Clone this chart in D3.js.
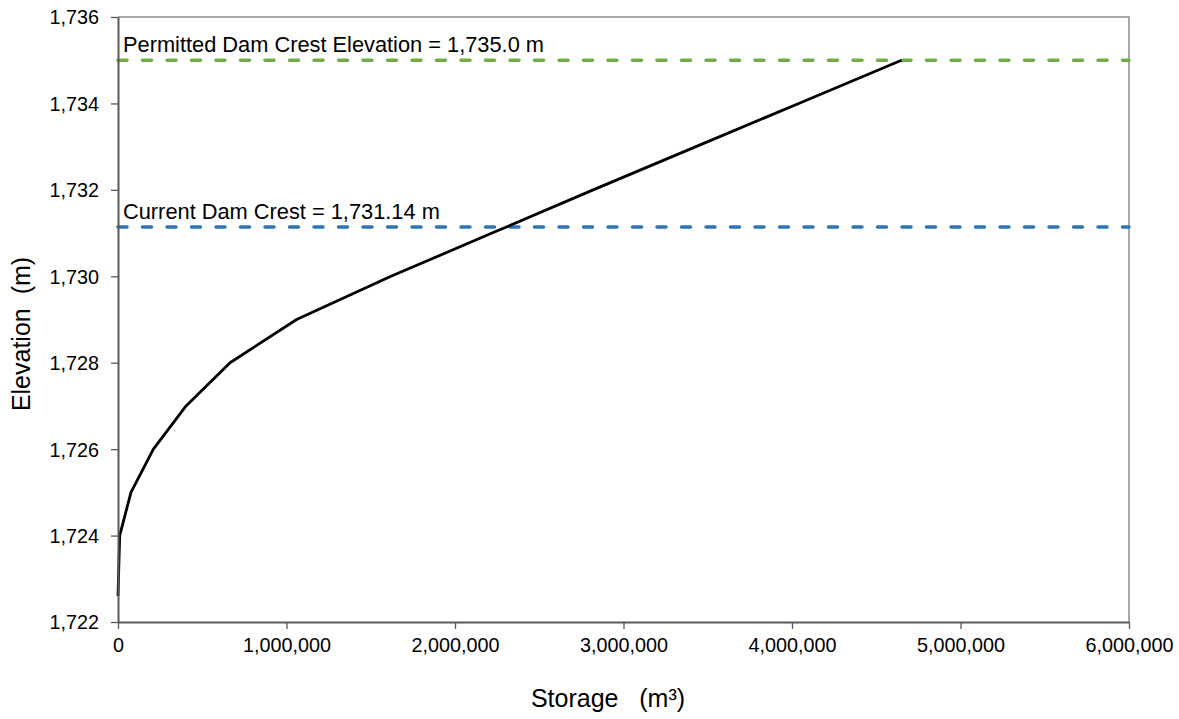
<!DOCTYPE html>
<html>
<head>
<meta charset="utf-8">
<script src="https://cdn.jsdelivr.net/npm/d3@7"></script>
<style>
  html, body { margin: 0; padding: 0; background: #fff; }
  svg { display: block; font-family: "Liberation Sans", Arial, sans-serif; }
</style>
</head>
<body>
<svg id="chart" width="1179" height="719"></svg>
<script>
// Stage-storage curve of the reservoir
const storage   = [0, 10000, 77000, 210000, 404000, 665000, 1060000, 1620000, 2220000, 2820000, 3430000, 4040000, 4650000];
const elevation = [1722.6, 1724, 1725, 1726, 1727, 1728, 1729, 1730, 1731, 1732, 1733, 1734, 1735];

const xTicks = [0, 1000000, 2000000, 3000000, 4000000, 5000000, 6000000];
const yTicks = [1722, 1724, 1726, 1728, 1730, 1732, 1734, 1736];

// Reference crest levels
const crestLevels = [1735.0, 1731.14];
const crestLabels = ["Permitted Dam Crest Elevation = 1,735.0 m", "Current Dam Crest = 1,731.14 m"];
const crestColors = ["#70ad47", "#2e75b6"];

const svg = d3.select("#chart");
const m = { left: 118, top: 17, right: 1129, bottom: 622 };

const x = d3.scaleLinear().domain([0, 6000000]).range([m.left, m.right]);
const y = d3.scaleLinear().domain([1722, 1736]).range([m.bottom, m.top]);
const fmt = d3.format(",");

// plot frame (top and right)
svg.append("path")
  .attr("d", `M${m.left},${m.top}H${m.right}V${m.bottom}`)
  .attr("fill", "none").attr("stroke", "#8c8c8c").attr("stroke-width", 1.5);

// crest lines
crestLevels.forEach((lv, i) => {
  svg.append("line")
    .attr("x1", x(0)).attr("x2", x(6000000))
    .attr("y1", y(lv)).attr("y2", y(lv))
    .attr("stroke", crestColors[i]).attr("stroke-width", 3.5)
    .attr("stroke-linecap", "round")
    .attr("stroke-dasharray", "9,15.5");
  svg.append("text")
    .attr("x", m.left + 5).attr("y", y(lv) - 8.5)
    .attr("font-size", 21.8).attr("fill", "#000")
    .text(crestLabels[i]);
});

// storage curve
svg.append("path")
  .datum(storage.map((s, i) => [s, elevation[i]]))
  .attr("d", d3.line().x(d => x(d[0])).y(d => y(d[1])))
  .attr("fill", "none").attr("stroke", "#000").attr("stroke-width", 2.8)
  .attr("stroke-linejoin", "round");

// axes
const xAxis = svg.append("g").attr("transform", `translate(0,${m.bottom})`)
  .call(d3.axisBottom(x).tickValues(xTicks).tickFormat(fmt).tickSize(7).tickSizeOuter(0).tickPadding(9));
const yAxis = svg.append("g").attr("transform", `translate(${m.left},0)`)
  .call(d3.axisLeft(y).tickValues(yTicks).tickFormat(fmt).tickSize(7).tickSizeOuter(0).tickPadding(12));

[xAxis, yAxis].forEach(g => {
  g.select(".domain").attr("stroke", "#595959").attr("stroke-width", 2);
  g.selectAll(".tick line").attr("stroke", "#595959").attr("stroke-width", 1.3);
  g.selectAll(".tick text").attr("font-size", 19.8).attr("fill", "#000")
    .attr("font-family", "Liberation Sans, Arial, sans-serif");
});
yAxis.selectAll(".tick text").attr("dy", "0.35em");

// axis titles
svg.append("text")
  .attr("x", 608).attr("y", 707)
  .attr("text-anchor", "middle").attr("font-size", 25)
  .attr("xml:space", "preserve")
  .text("Storage   (m³)");

svg.append("text")
  .attr("transform", "translate(30,334) rotate(-90)")
  .attr("text-anchor", "middle").attr("font-size", 25)
  .attr("xml:space", "preserve")
  .text("Elevation  (m)");
</script>
</body>
</html>
